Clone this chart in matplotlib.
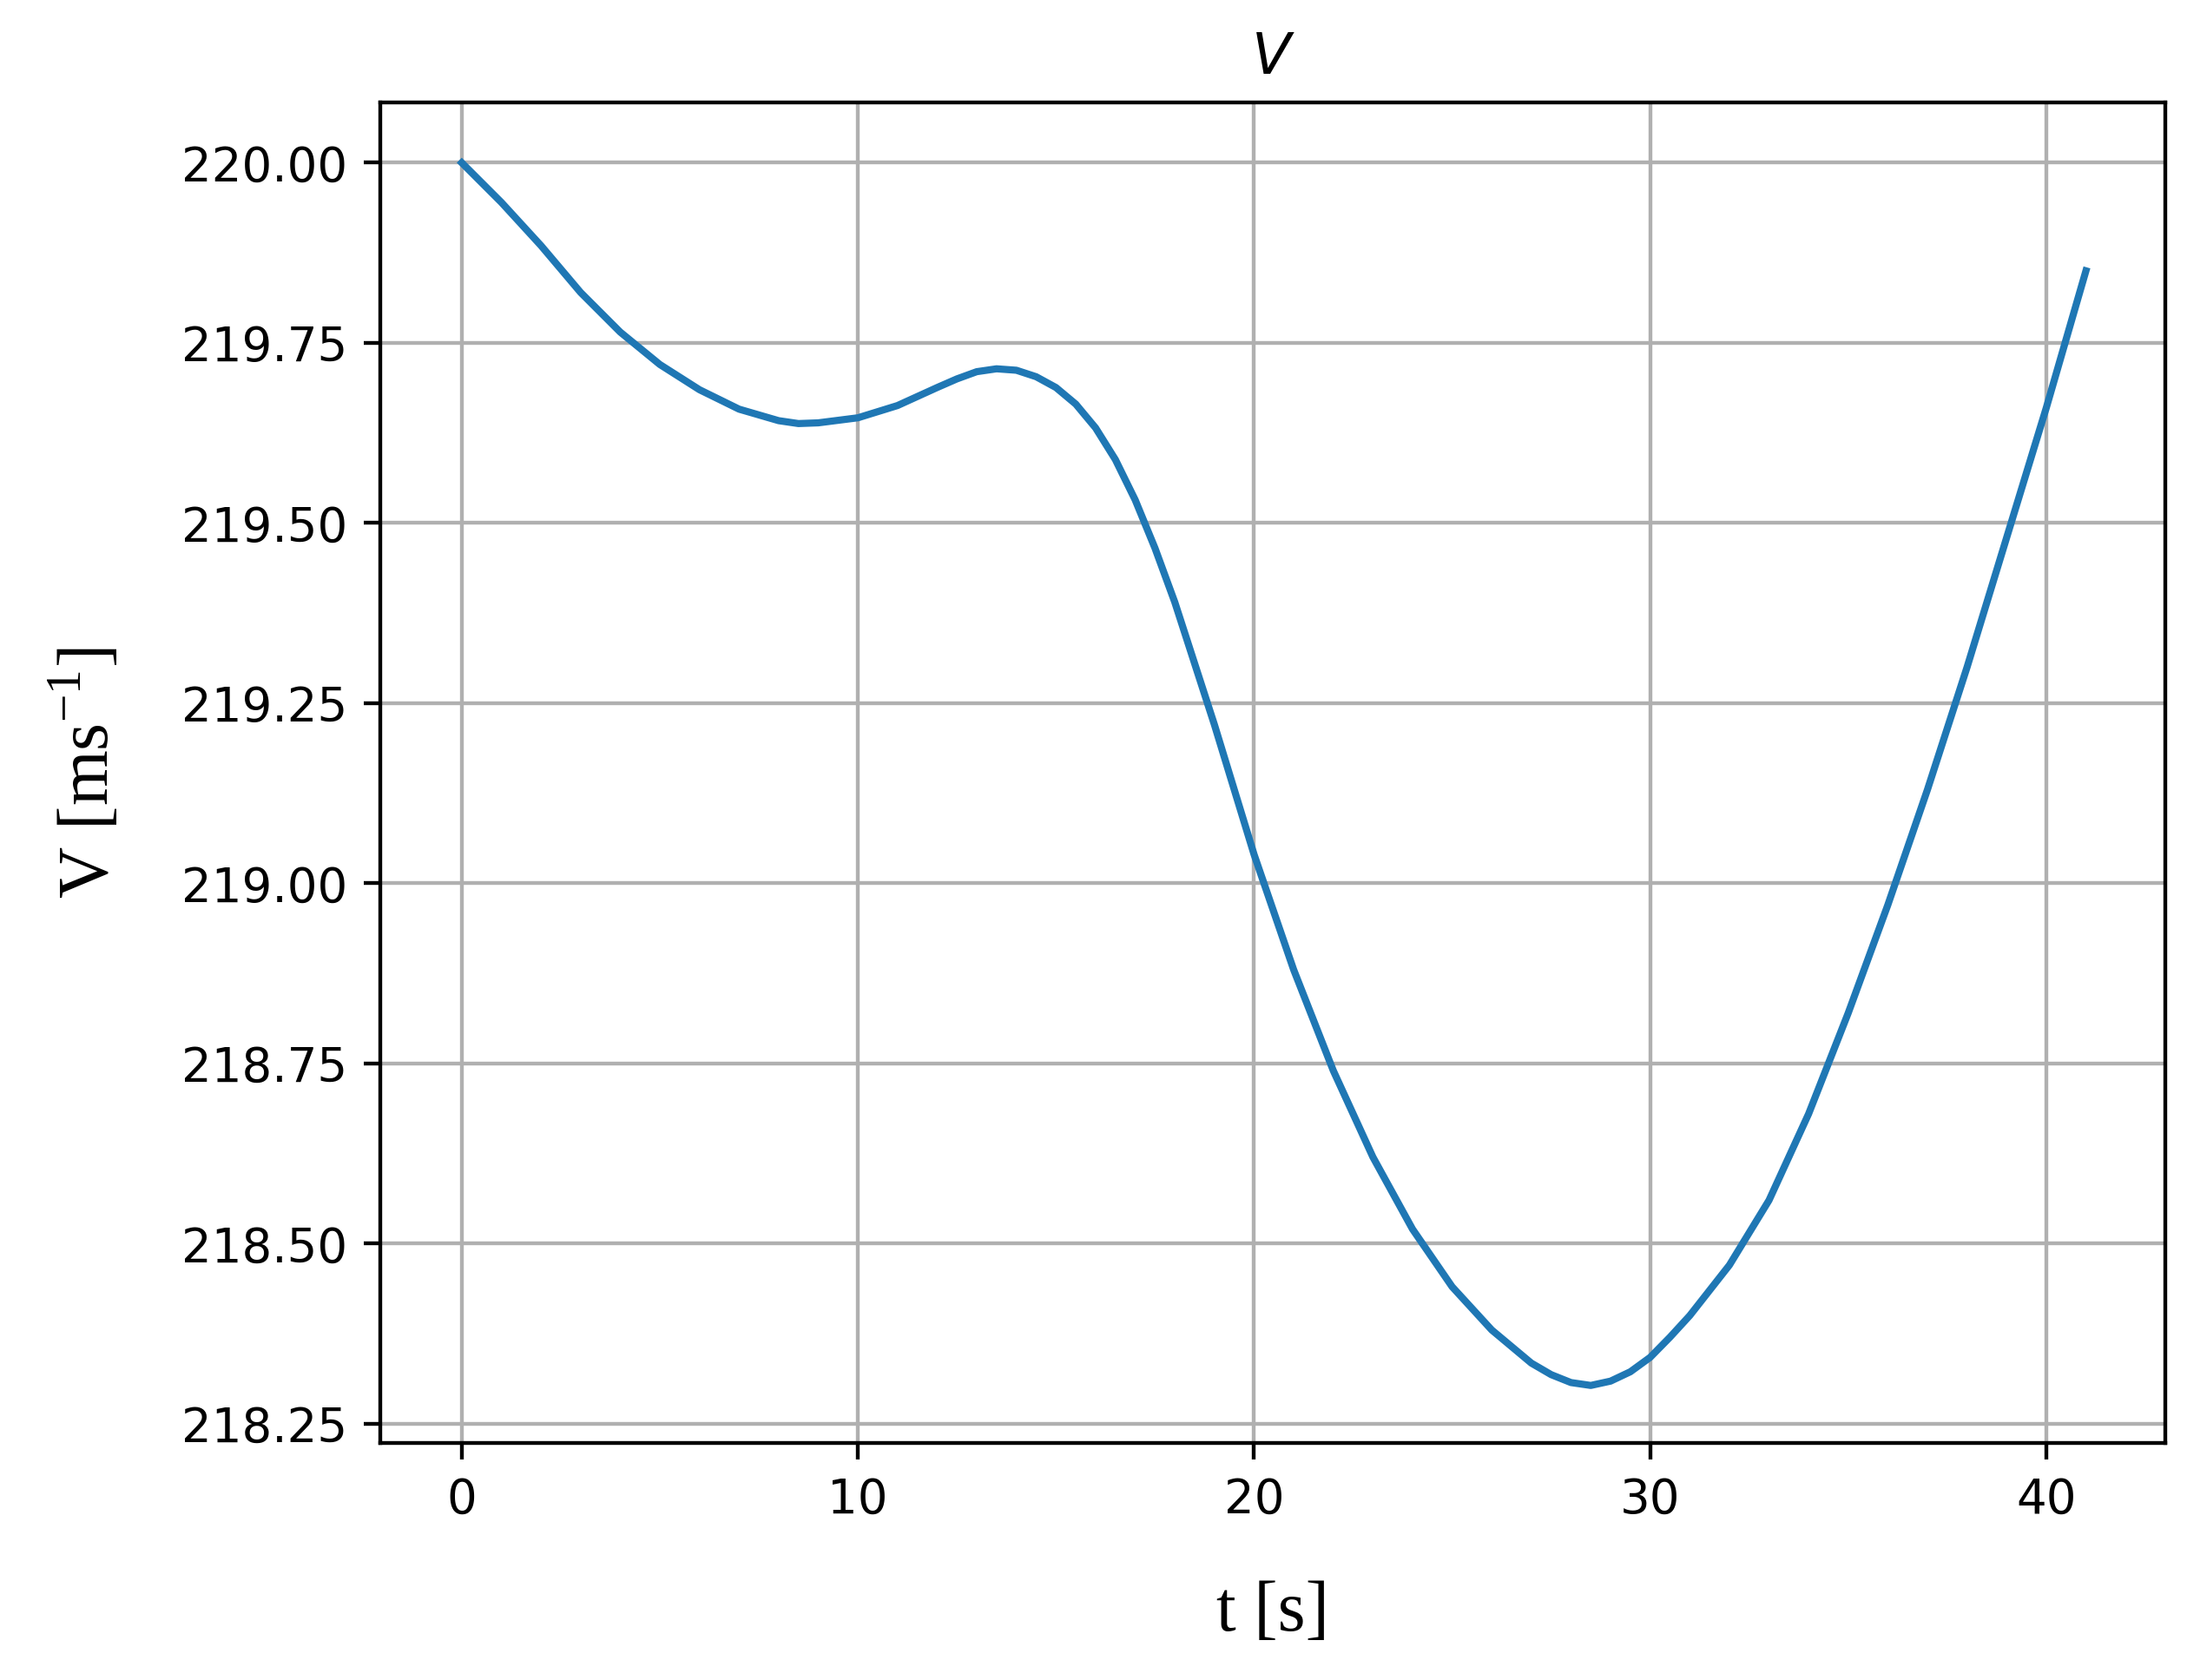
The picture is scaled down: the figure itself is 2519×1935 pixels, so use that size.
import matplotlib
matplotlib.use("Agg")
import matplotlib.pyplot as plt

t = [0, 1, 2, 3, 4, 5, 6, 7, 8, 8.5, 9, 10, 11, 12, 12.5, 13, 13.5, 14, 14.5, 15, 15.5,
     16, 16.5, 17, 17.5, 18, 19, 20, 21, 22, 23, 24, 25, 26, 27, 27.5, 28, 28.5, 29, 29.5,
     30, 30.5, 31, 32, 33, 34, 35, 36, 37, 38, 39, 40, 41]
v = [220.00, 219.945, 219.885, 219.82, 219.765, 219.72, 219.685, 219.658, 219.642, 219.638,
     219.639, 219.646, 219.663, 219.688, 219.700, 219.710, 219.714, 219.712, 219.703, 219.688, 219.665,
     219.632, 219.588, 219.532, 219.465, 219.39, 219.22, 219.04, 218.88, 218.74, 218.62,
     218.52, 218.44, 218.38, 218.334, 218.318, 218.307, 218.303, 218.309, 218.322,
     218.342, 218.37, 218.40, 218.47, 218.56, 218.68, 218.82, 218.97, 219.13, 219.30,
     219.48, 219.66, 219.85]

fig = plt.figure(figsize=(6.4, 4.917), dpi=393.6)
ax = fig.add_axes([0.174, 0.141, 0.816, 0.798])
ax.plot(t, v, color="#1f77b4", lw=1.5)
ax.set_yticks([218.25, 218.5, 218.75, 219.0, 219.25, 219.5, 219.75, 220.0])
ax.set_yticklabels(["218.25", "218.50", "218.75", "219.00", "219.25", "219.50", "219.75", "220.00"])
ax.set_xticks([0, 10, 20, 30, 40])
ax.set_xlim(-2.05, 43.0)
ax.set_ylim(218.223, 220.084)
ax.grid(True, color="#b0b0b0", lw=0.8)
ax.set_title("$V$", fontsize=12)
ax.set_xlabel("t [s]", family="Liberation Serif", fontsize=15, labelpad=12)
ax.set_ylabel("V [ms$^{\\mathregular{-1}}$]", family="Liberation Serif", fontsize=15, labelpad=12)
fig.savefig("out.png")
